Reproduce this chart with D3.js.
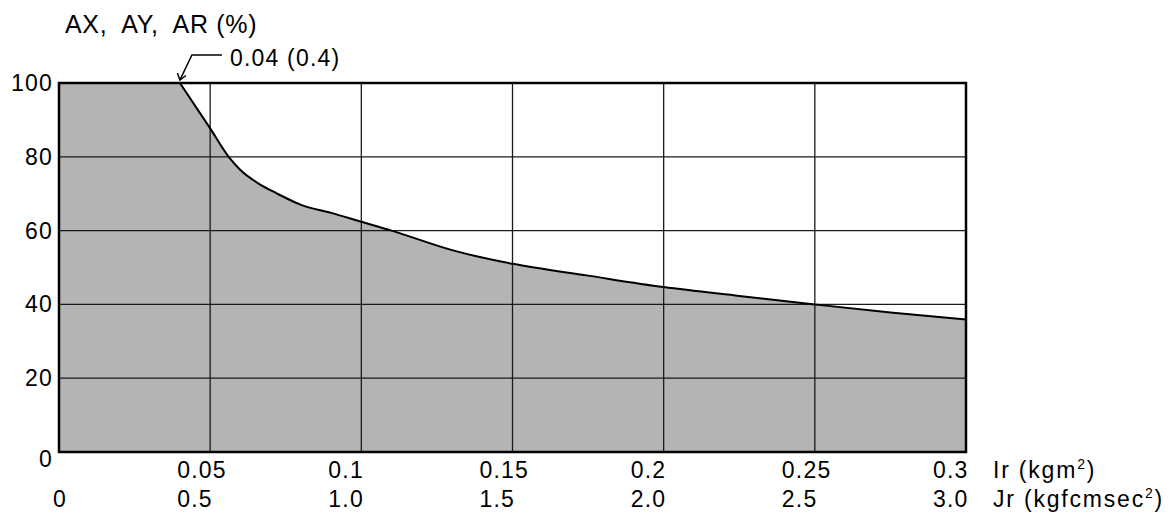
<!DOCTYPE html>
<html>
<head>
<meta charset="utf-8">
<script src="https://cdn.jsdelivr.net/npm/d3@7"></script>
<style>
  body { margin: 0; background: #fff; }
  svg { display: block; }
  text { font-family: "Liberation Sans", Arial, Helvetica, sans-serif; fill: #000; }
</style>
</head>
<body>
<svg id="chart" width="1174" height="514"></svg>
<script>
// ---- data ----
const xTickValues = [0, 0.05, 0.1, 0.15, 0.2, 0.25, 0.3];
const irTickLabels = ["", "0.05", "0.1", "0.15", "0.2", "0.25", "0.3"];
const jrTickLabels = ["0", "0.5", "1.0", "1.5", "2.0", "2.5", "3.0"];
const yTickValues = [0, 20, 40, 60, 80, 100];
const plateauEnd = 0.04;   // AX/AY/AR stays at 100 % up to this inertia
const curveIr  = [0.04, 0.05, 0.0562, 0.06, 0.0659, 0.072, 0.0803, 0.09, 0.1, 0.11, 0.13, 0.15, 0.175, 0.2, 0.225, 0.25, 0.275, 0.3];
const curvePct = [100,  87.7, 79.9,   76.4, 72.8,   70.1,  66.9,   64.8, 62.4, 60.0, 54.7, 51.0, 47.8, 44.7, 42.3, 40.0, 37.8, 35.9];
const annotationText = "0.04 (0.4)";
const yTitle = "AX,  AY,  AR (%)";

// ---- layout ----
const svg = d3.select("#chart");
const pLeft = 59, pRight = 966, pTop = 83, pBottom = 452;
const x = d3.scaleLinear().domain([0, 0.3]).range([pLeft, pRight]);
const y = d3.scaleLinear().domain([0, 100]).range([pBottom, pTop]);

const pts = curveIr.map((d, i) => ({ x: d, y: curvePct[i] }));
const curveType = d3.curveMonotoneX;

// filled region: plateau part + curve part
svg.append("rect")
  .attr("x", x(0)).attr("y", y(100))
  .attr("width", x(plateauEnd) - x(0) + 0.5).attr("height", y(0) - y(100))
  .attr("fill", "#b4b4b4");
svg.append("path")
  .datum(pts)
  .attr("fill", "#b4b4b4")
  .attr("d", d3.area().x(d => x(d.x)).y0(y(0)).y1(d => y(d.y)).curve(curveType));

// grid
svg.append("g").selectAll("line")
  .data(xTickValues.filter(v => v > 0 && v < 0.3))
  .join("line")
  .attr("x1", d => x(d)).attr("x2", d => x(d))
  .attr("y1", y(100)).attr("y2", y(0))
  .attr("stroke", "#1a1a1a").attr("stroke-width", 1.3);
svg.append("g").selectAll("line")
  .data(yTickValues.filter(v => v > 0 && v < 100))
  .join("line")
  .attr("x1", x(0)).attr("x2", x(0.3))
  .attr("y1", d => y(d)).attr("y2", d => y(d))
  .attr("stroke", "#1a1a1a").attr("stroke-width", 1.3);

// curve
svg.append("path")
  .datum(pts)
  .attr("fill", "none")
  .attr("stroke", "#000")
  .attr("stroke-width", 2)
  .attr("d", d3.line().x(d => x(d.x)).y(d => y(d.y)).curve(curveType));

// frame
svg.append("rect")
  .attr("x", x(0)).attr("y", y(100))
  .attr("width", x(0.3) - x(0)).attr("height", y(0) - y(100))
  .attr("fill", "none").attr("stroke", "#000").attr("stroke-width", 2.5);

// y tick labels
svg.append("g").selectAll("text")
  .data(yTickValues)
  .join("text")
  .attr("x", x(0) - 6)
  .attr("y", d => y(d) + (d === 0 ? 15 : 8))
  .attr("text-anchor", "end")
  .attr("font-size", 23)
  .style("letter-spacing", "1.2px")
  .text(d => String(d));

// x tick labels (two rows)
const lbl = svg.append("g").attr("font-size", 23).style("letter-spacing", "1.2px");
lbl.selectAll("text.ir")
  .data(xTickValues)
  .join("text")
  .attr("class", "ir")
  .attr("x", d => d === 0 ? x(d) : x(d) - 33)
  .attr("y", 478)
  .text((d, i) => irTickLabels[i]);
lbl.selectAll("text.jr")
  .data(xTickValues)
  .join("text")
  .attr("class", "jr")
  .attr("x", d => d === 0 ? x(d) - 6 : x(d) - 33)
  .attr("y", 507)
  .text((d, i) => jrTickLabels[i]);

// axis unit labels
const u1 = svg.append("text").attr("x", 993).attr("y", 478).attr("font-size", 23).style("letter-spacing", "1.8px");
u1.append("tspan").text("Ir (kgm");
u1.append("tspan").attr("font-size", 14).attr("dy", -9).text("2");
u1.append("tspan").attr("dy", 9).text(")");
const u2 = svg.append("text").attr("x", 993).attr("y", 507).attr("font-size", 23).style("letter-spacing", "1.8px");
u2.append("tspan").text("Jr (kgfcmsec");
u2.append("tspan").attr("font-size", 14).attr("dy", -9).text("2");
u2.append("tspan").attr("dy", 9).text(")");

// y title
svg.append("text")
  .attr("x", 65).attr("y", 33)
  .attr("font-size", 25)
  .style("letter-spacing", "0.7px")
  .style("white-space", "pre")
  .attr("xml:space", "preserve")
  .text(yTitle);

// annotation with arrow
const tipX = x(plateauEnd), tipY = y(100) - 3;
const elbowX = tipX + 12, elbowY = tipY - 25;
svg.append("path")
  .attr("d", `M${tipX + 42},${elbowY} L${elbowX},${elbowY} L${tipX},${tipY}`)
  .attr("fill", "none").attr("stroke", "#000").attr("stroke-width", 1.5);
svg.append("path")
  .attr("d", `M${tipX - 2.5},${tipY - 7} L${tipX},${tipY} L${tipX + 6},${tipY - 4.5}`)
  .attr("fill", "none").attr("stroke", "#000").attr("stroke-width", 1.5);
svg.append("text")
  .attr("x", tipX + 50).attr("y", 66)
  .attr("font-size", 23)
  .style("letter-spacing", "1.2px")
  .text(annotationText);
</script>
</body>
</html>
